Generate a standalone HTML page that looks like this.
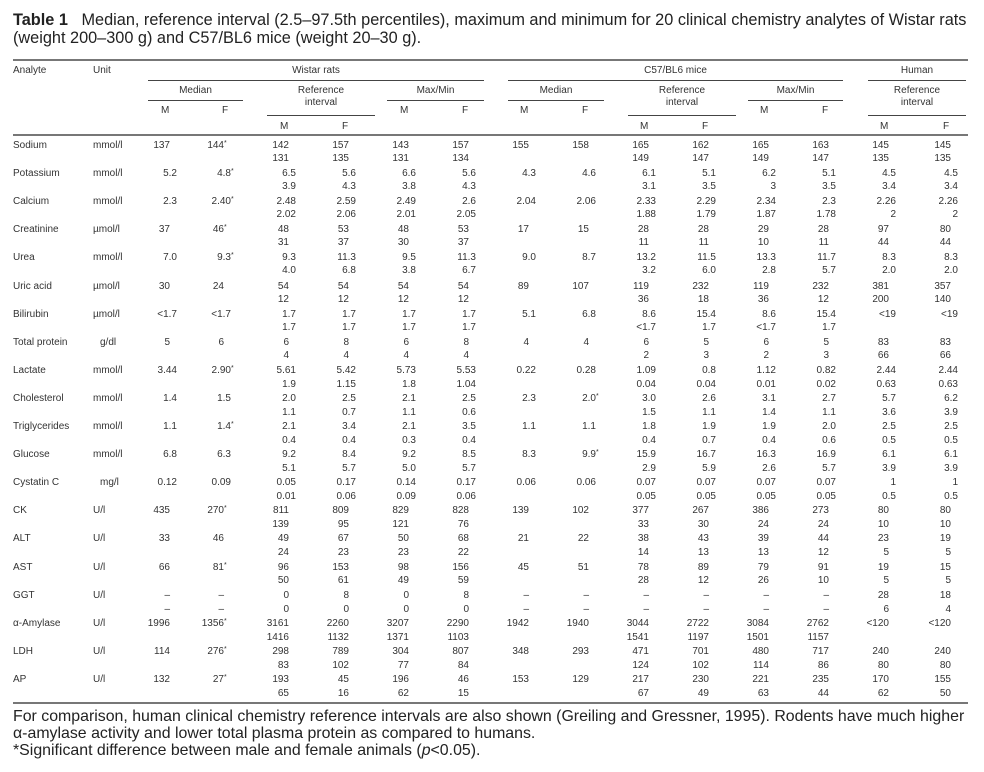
<!DOCTYPE html>
<html><head><meta charset="utf-8">
<style>
body{margin:0;background:#fff;width:984px;height:772px;position:relative;overflow:hidden;font-family:"Liberation Sans",Arial,sans-serif;color:#333}
.t{position:absolute;left:13px;font-size:16px;line-height:18px;color:#222;white-space:nowrap}
.tt{font-size:16.3px;transform-origin:0 0}
.h{position:absolute;font-size:10px;line-height:12px;white-space:nowrap;text-align:center}
.ln{position:absolute;height:1px;background:#444}
.rule{position:absolute;left:13px;width:955px;height:2px;background:#777}
.r{position:absolute;left:0;width:984px;height:12px;font-size:10px;line-height:12px}
.r.d{left:7px}
.r b,.r i{position:absolute;font-weight:normal;font-style:normal;white-space:nowrap}
.r b{left:13px}
.r b+b{left:93px}
.r i s{position:absolute;text-decoration:none;font-size:7px;line-height:8px}
.c1{right:814px}.c2{right:760px}.c3{right:695px}.c4{right:635px}.c5{right:575px}.c6{right:515px}.c7{right:455px}
.c8{right:395px}.c9{right:335px}.c10{right:275px}.c11{right:215px}.c12{right:155px}.c13{right:95px}.c14{right:33px}
</style></head><body>
<div class="t tt" style="top:11px"><b>Table 1</b>&nbsp;&nbsp; Median, reference interval (2.5–97.5th percentiles), maximum and minimum for 20 clinical chemistry analytes of Wistar rats</div>
<div class="t tt" style="top:29px">(weight 200–300 g) and C57/BL6 mice (weight 20–30 g).</div>

<div class="rule" style="top:59px"></div>
<div class="h" style="left:13px;top:65px">Analyte</div>
<div class="h" style="left:93px;top:65px">Unit</div>
<div class="h" style="left:148px;width:336px;top:65px">Wistar rats</div>
<div class="h" style="left:508px;width:335px;top:65px">C57/BL6 mice</div>
<div class="h" style="left:868px;width:98px;top:65px">Human</div>
<div class="ln" style="left:148px;width:336px;top:80px"></div>
<div class="ln" style="left:508px;width:335px;top:80px"></div>
<div class="ln" style="left:868px;width:98px;top:80px"></div>

<div class="h" style="left:148px;width:95px;top:85px">Median</div>
<div class="h" style="left:267px;width:108px;top:85px">Reference<br>interval</div>
<div class="h" style="left:387px;width:97px;top:85px">Max/Min</div>
<div class="h" style="left:508px;width:96px;top:85px">Median</div>
<div class="h" style="left:628px;width:108px;top:85px">Reference<br>interval</div>
<div class="h" style="left:748px;width:95px;top:85px">Max/Min</div>
<div class="h" style="left:868px;width:98px;top:85px">Reference<br>interval</div>
<div class="ln" style="left:148px;width:95px;top:100px"></div>
<div class="ln" style="left:387px;width:97px;top:100px"></div>
<div class="ln" style="left:508px;width:96px;top:100px"></div>
<div class="ln" style="left:748px;width:95px;top:100px"></div>
<div class="ln" style="left:267px;width:108px;top:115px"></div>
<div class="ln" style="left:628px;width:108px;top:115px"></div>
<div class="ln" style="left:868px;width:98px;top:115px"></div>

<div class="h" style="left:161px;top:105px">M</div><div class="h" style="left:222px;top:105px">F</div>
<div class="h" style="left:400px;top:105px">M</div><div class="h" style="left:462px;top:105px">F</div>
<div class="h" style="left:520px;top:105px">M</div><div class="h" style="left:582px;top:105px">F</div>
<div class="h" style="left:760px;top:105px">M</div><div class="h" style="left:822px;top:105px">F</div>
<div class="h" style="left:280px;top:121px">M</div><div class="h" style="left:342px;top:121px">F</div>
<div class="h" style="left:640px;top:121px">M</div><div class="h" style="left:702px;top:121px">F</div>
<div class="h" style="left:880px;top:121px">M</div><div class="h" style="left:943px;top:121px">F</div>
<div class="rule" style="top:134px"></div>

<div class="r" style="top:140px"><b>Sodium</b><b>mmol/l</b><i class="c1">137</i><i class="c2">144<s>*</s></i><i class="c3">142</i><i class="c4">157</i><i class="c5">143</i><i class="c6">157</i><i class="c7">155</i><i class="c8">158</i><i class="c9">165</i><i class="c10">162</i><i class="c11">165</i><i class="c12">163</i><i class="c13">145</i><i class="c14">145</i></div>
<div class="r" style="top:153px"><i class="c3">131</i><i class="c4">135</i><i class="c5">131</i><i class="c6">134</i><i class="c9">149</i><i class="c10">147</i><i class="c11">149</i><i class="c12">147</i><i class="c13">135</i><i class="c14">135</i></div>
<div class="r d" style="top:168px"><b style="left:6px">Potassium</b><b style="left:86px">mmol/l</b><i class="c1">5.2</i><i class="c2">4.8<s>*</s></i><i class="c3">6.5</i><i class="c4">5.6</i><i class="c5">6.6</i><i class="c6">5.6</i><i class="c7">4.3</i><i class="c8">4.6</i><i class="c9">6.1</i><i class="c10">5.1</i><i class="c11">6.2</i><i class="c12">5.1</i><i class="c13">4.5</i><i class="c14">4.5</i></div>
<div class="r d" style="top:181px"><i class="c3">3.9</i><i class="c4">4.3</i><i class="c5">3.8</i><i class="c6">4.3</i><i class="c9">3.1</i><i class="c10">3.5</i><i class="c11">3</i><i class="c12">3.5</i><i class="c13">3.4</i><i class="c14">3.4</i></div>
<div class="r d" style="top:196px"><b style="left:6px">Calcium</b><b style="left:86px">mmol/l</b><i class="c1">2.3</i><i class="c2">2.40<s>*</s></i><i class="c3">2.48</i><i class="c4">2.59</i><i class="c5">2.49</i><i class="c6">2.6</i><i class="c7">2.04</i><i class="c8">2.06</i><i class="c9">2.33</i><i class="c10">2.29</i><i class="c11">2.34</i><i class="c12">2.3</i><i class="c13">2.26</i><i class="c14">2.26</i></div>
<div class="r d" style="top:209px"><i class="c3">2.02</i><i class="c4">2.06</i><i class="c5">2.01</i><i class="c6">2.05</i><i class="c9">1.88</i><i class="c10">1.79</i><i class="c11">1.87</i><i class="c12">1.78</i><i class="c13">2</i><i class="c14">2</i></div>
<div class="r" style="top:224px"><b>Creatinine</b><b>µmol/l</b><i class="c1">37</i><i class="c2">46<s>*</s></i><i class="c3">48</i><i class="c4">53</i><i class="c5">48</i><i class="c6">53</i><i class="c7">17</i><i class="c8">15</i><i class="c9">28</i><i class="c10">28</i><i class="c11">29</i><i class="c12">28</i><i class="c13">97</i><i class="c14">80</i></div>
<div class="r" style="top:237px"><i class="c3">31</i><i class="c4">37</i><i class="c5">30</i><i class="c6">37</i><i class="c9">11</i><i class="c10">11</i><i class="c11">10</i><i class="c12">11</i><i class="c13">44</i><i class="c14">44</i></div>
<div class="r d" style="top:252px"><b style="left:6px">Urea</b><b style="left:86px">mmol/l</b><i class="c1">7.0</i><i class="c2">9.3<s>*</s></i><i class="c3">9.3</i><i class="c4">11.3</i><i class="c5">9.5</i><i class="c6">11.3</i><i class="c7">9.0</i><i class="c8">8.7</i><i class="c9">13.2</i><i class="c10">11.5</i><i class="c11">13.3</i><i class="c12">11.7</i><i class="c13">8.3</i><i class="c14">8.3</i></div>
<div class="r d" style="top:265px"><i class="c3">4.0</i><i class="c4">6.8</i><i class="c5">3.8</i><i class="c6">6.7</i><i class="c9">3.2</i><i class="c10">6.0</i><i class="c11">2.8</i><i class="c12">5.7</i><i class="c13">2.0</i><i class="c14">2.0</i></div>
<div class="r" style="top:281px"><b>Uric acid</b><b>µmol/l</b><i class="c1">30</i><i class="c2">24</i><i class="c3">54</i><i class="c4">54</i><i class="c5">54</i><i class="c6">54</i><i class="c7">89</i><i class="c8">107</i><i class="c9">119</i><i class="c10">232</i><i class="c11">119</i><i class="c12">232</i><i class="c13">381</i><i class="c14">357</i></div>
<div class="r" style="top:294px"><i class="c3">12</i><i class="c4">12</i><i class="c5">12</i><i class="c6">12</i><i class="c9">36</i><i class="c10">18</i><i class="c11">36</i><i class="c12">12</i><i class="c13">200</i><i class="c14">140</i></div>
<div class="r d" style="top:309px"><b style="left:6px">Bilirubin</b><b style="left:86px">µmol/l</b><i class="c1">&lt;1.7</i><i class="c2">&lt;1.7</i><i class="c3">1.7</i><i class="c4">1.7</i><i class="c5">1.7</i><i class="c6">1.7</i><i class="c7">5.1</i><i class="c8">6.8</i><i class="c9">8.6</i><i class="c10">15.4</i><i class="c11">8.6</i><i class="c12">15.4</i><i class="c13">&lt;19</i><i class="c14">&lt;19</i></div>
<div class="r d" style="top:322px"><i class="c3">1.7</i><i class="c4">1.7</i><i class="c5">1.7</i><i class="c6">1.7</i><i class="c9">&lt;1.7</i><i class="c10">1.7</i><i class="c11">&lt;1.7</i><i class="c12">1.7</i></div>
<div class="r" style="top:337px"><b>Total protein</b><b style="left:100px">g/dl</b><i class="c1">5</i><i class="c2">6</i><i class="c3">6</i><i class="c4">8</i><i class="c5">6</i><i class="c6">8</i><i class="c7">4</i><i class="c8">4</i><i class="c9">6</i><i class="c10">5</i><i class="c11">6</i><i class="c12">5</i><i class="c13">83</i><i class="c14">83</i></div>
<div class="r" style="top:350px"><i class="c3">4</i><i class="c4">4</i><i class="c5">4</i><i class="c6">4</i><i class="c9">2</i><i class="c10">3</i><i class="c11">2</i><i class="c12">3</i><i class="c13">66</i><i class="c14">66</i></div>
<div class="r d" style="top:365px"><b style="left:6px">Lactate</b><b style="left:86px">mmol/l</b><i class="c1">3.44</i><i class="c2">2.90<s>*</s></i><i class="c3">5.61</i><i class="c4">5.42</i><i class="c5">5.73</i><i class="c6">5.53</i><i class="c7">0.22</i><i class="c8">0.28</i><i class="c9">1.09</i><i class="c10">0.8</i><i class="c11">1.12</i><i class="c12">0.82</i><i class="c13">2.44</i><i class="c14">2.44</i></div>
<div class="r d" style="top:379px"><i class="c3">1.9</i><i class="c4">1.15</i><i class="c5">1.8</i><i class="c6">1.04</i><i class="c9">0.04</i><i class="c10">0.04</i><i class="c11">0.01</i><i class="c12">0.02</i><i class="c13">0.63</i><i class="c14">0.63</i></div>
<div class="r d" style="top:393px"><b style="left:6px">Cholesterol</b><b style="left:86px">mmol/l</b><i class="c1">1.4</i><i class="c2">1.5</i><i class="c3">2.0</i><i class="c4">2.5</i><i class="c5">2.1</i><i class="c6">2.5</i><i class="c7">2.3</i><i class="c8">2.0<s>*</s></i><i class="c9">3.0</i><i class="c10">2.6</i><i class="c11">3.1</i><i class="c12">2.7</i><i class="c13">5.7</i><i class="c14">6.2</i></div>
<div class="r d" style="top:407px"><i class="c3">1.1</i><i class="c4">0.7</i><i class="c5">1.1</i><i class="c6">0.6</i><i class="c9">1.5</i><i class="c10">1.1</i><i class="c11">1.4</i><i class="c12">1.1</i><i class="c13">3.6</i><i class="c14">3.9</i></div>
<div class="r d" style="top:421px"><b style="left:6px">Triglycerides</b><b style="left:86px">mmol/l</b><i class="c1">1.1</i><i class="c2">1.4<s>*</s></i><i class="c3">2.1</i><i class="c4">3.4</i><i class="c5">2.1</i><i class="c6">3.5</i><i class="c7">1.1</i><i class="c8">1.1</i><i class="c9">1.8</i><i class="c10">1.9</i><i class="c11">1.9</i><i class="c12">2.0</i><i class="c13">2.5</i><i class="c14">2.5</i></div>
<div class="r d" style="top:435px"><i class="c3">0.4</i><i class="c4">0.4</i><i class="c5">0.3</i><i class="c6">0.4</i><i class="c9">0.4</i><i class="c10">0.7</i><i class="c11">0.4</i><i class="c12">0.6</i><i class="c13">0.5</i><i class="c14">0.5</i></div>
<div class="r d" style="top:449px"><b style="left:6px">Glucose</b><b style="left:86px">mmol/l</b><i class="c1">6.8</i><i class="c2">6.3</i><i class="c3">9.2</i><i class="c4">8.4</i><i class="c5">9.2</i><i class="c6">8.5</i><i class="c7">8.3</i><i class="c8">9.9<s>*</s></i><i class="c9">15.9</i><i class="c10">16.7</i><i class="c11">16.3</i><i class="c12">16.9</i><i class="c13">6.1</i><i class="c14">6.1</i></div>
<div class="r d" style="top:463px"><i class="c3">5.1</i><i class="c4">5.7</i><i class="c5">5.0</i><i class="c6">5.7</i><i class="c9">2.9</i><i class="c10">5.9</i><i class="c11">2.6</i><i class="c12">5.7</i><i class="c13">3.9</i><i class="c14">3.9</i></div>
<div class="r d" style="top:477px"><b style="left:6px">Cystatin C</b><b style="left:93px">mg/l</b><i class="c1">0.12</i><i class="c2">0.09</i><i class="c3">0.05</i><i class="c4">0.17</i><i class="c5">0.14</i><i class="c6">0.17</i><i class="c7">0.06</i><i class="c8">0.06</i><i class="c9">0.07</i><i class="c10">0.07</i><i class="c11">0.07</i><i class="c12">0.07</i><i class="c13">1</i><i class="c14">1</i></div>
<div class="r d" style="top:491px"><i class="c3">0.01</i><i class="c4">0.06</i><i class="c5">0.09</i><i class="c6">0.06</i><i class="c9">0.05</i><i class="c10">0.05</i><i class="c11">0.05</i><i class="c12">0.05</i><i class="c13">0.5</i><i class="c14">0.5</i></div>
<div class="r" style="top:505px"><b>CK</b><b>U/l</b><i class="c1">435</i><i class="c2">270<s>*</s></i><i class="c3">811</i><i class="c4">809</i><i class="c5">829</i><i class="c6">828</i><i class="c7">139</i><i class="c8">102</i><i class="c9">377</i><i class="c10">267</i><i class="c11">386</i><i class="c12">273</i><i class="c13">80</i><i class="c14">80</i></div>
<div class="r" style="top:519px"><i class="c3">139</i><i class="c4">95</i><i class="c5">121</i><i class="c6">76</i><i class="c9">33</i><i class="c10">30</i><i class="c11">24</i><i class="c12">24</i><i class="c13">10</i><i class="c14">10</i></div>
<div class="r" style="top:533px"><b>ALT</b><b>U/l</b><i class="c1">33</i><i class="c2">46</i><i class="c3">49</i><i class="c4">67</i><i class="c5">50</i><i class="c6">68</i><i class="c7">21</i><i class="c8">22</i><i class="c9">38</i><i class="c10">43</i><i class="c11">39</i><i class="c12">44</i><i class="c13">23</i><i class="c14">19</i></div>
<div class="r" style="top:547px"><i class="c3">24</i><i class="c4">23</i><i class="c5">23</i><i class="c6">22</i><i class="c9">14</i><i class="c10">13</i><i class="c11">13</i><i class="c12">12</i><i class="c13">5</i><i class="c14">5</i></div>
<div class="r" style="top:562px"><b>AST</b><b>U/l</b><i class="c1">66</i><i class="c2">81<s>*</s></i><i class="c3">96</i><i class="c4">153</i><i class="c5">98</i><i class="c6">156</i><i class="c7">45</i><i class="c8">51</i><i class="c9">78</i><i class="c10">89</i><i class="c11">79</i><i class="c12">91</i><i class="c13">19</i><i class="c14">15</i></div>
<div class="r" style="top:575px"><i class="c3">50</i><i class="c4">61</i><i class="c5">49</i><i class="c6">59</i><i class="c9">28</i><i class="c10">12</i><i class="c11">26</i><i class="c12">10</i><i class="c13">5</i><i class="c14">5</i></div>
<div class="r" style="top:590px"><b>GGT</b><b>U/l</b><i class="c1">–</i><i class="c2">–</i><i class="c3">0</i><i class="c4">8</i><i class="c5">0</i><i class="c6">8</i><i class="c7">–</i><i class="c8">–</i><i class="c9">–</i><i class="c10">–</i><i class="c11">–</i><i class="c12">–</i><i class="c13">28</i><i class="c14">18</i></div>
<div class="r" style="top:604px"><i class="c1">–</i><i class="c2">–</i><i class="c3">0</i><i class="c4">0</i><i class="c5">0</i><i class="c6">0</i><i class="c7">–</i><i class="c8">–</i><i class="c9">–</i><i class="c10">–</i><i class="c11">–</i><i class="c12">–</i><i class="c13">6</i><i class="c14">4</i></div>
<div class="r" style="top:618px"><b>α-Amylase</b><b>U/l</b><i class="c1">1996</i><i class="c2">1356<s>*</s></i><i class="c3">3161</i><i class="c4">2260</i><i class="c5">3207</i><i class="c6">2290</i><i class="c7">1942</i><i class="c8">1940</i><i class="c9">3044</i><i class="c10">2722</i><i class="c11">3084</i><i class="c12">2762</i><i class="c13">&lt;120</i><i class="c14">&lt;120</i></div>
<div class="r" style="top:632px"><i class="c3">1416</i><i class="c4">1132</i><i class="c5">1371</i><i class="c6">1103</i><i class="c9">1541</i><i class="c10">1197</i><i class="c11">1501</i><i class="c12">1157</i></div>
<div class="r" style="top:646px"><b>LDH</b><b>U/l</b><i class="c1">114</i><i class="c2">276<s>*</s></i><i class="c3">298</i><i class="c4">789</i><i class="c5">304</i><i class="c6">807</i><i class="c7">348</i><i class="c8">293</i><i class="c9">471</i><i class="c10">701</i><i class="c11">480</i><i class="c12">717</i><i class="c13">240</i><i class="c14">240</i></div>
<div class="r" style="top:660px"><i class="c3">83</i><i class="c4">102</i><i class="c5">77</i><i class="c6">84</i><i class="c9">124</i><i class="c10">102</i><i class="c11">114</i><i class="c12">86</i><i class="c13">80</i><i class="c14">80</i></div>
<div class="r" style="top:674px"><b>AP</b><b>U/l</b><i class="c1">132</i><i class="c2">27<s>*</s></i><i class="c3">193</i><i class="c4">45</i><i class="c5">196</i><i class="c6">46</i><i class="c7">153</i><i class="c8">129</i><i class="c9">217</i><i class="c10">230</i><i class="c11">221</i><i class="c12">235</i><i class="c13">170</i><i class="c14">155</i></div>
<div class="r" style="top:688px"><i class="c3">65</i><i class="c4">16</i><i class="c5">62</i><i class="c6">15</i><i class="c9">67</i><i class="c10">49</i><i class="c11">63</i><i class="c12">44</i><i class="c13">62</i><i class="c14">50</i></div>

<div class="rule" style="top:702px"></div>
<div class="t" style="top:708px;font-size:15.9px">For comparison, human clinical chemistry reference intervals are also shown (Greiling and Gressner, 1995). Rodents have much higher</div>
<div class="t" style="top:725px;font-size:15.9px">α-amylase activity and lower total plasma protein as compared to humans.</div>
<div class="t" style="top:742px;font-size:15.9px">*Significant difference between male and female animals (<i>p</i>&lt;0.05).</div>
</body></html>
